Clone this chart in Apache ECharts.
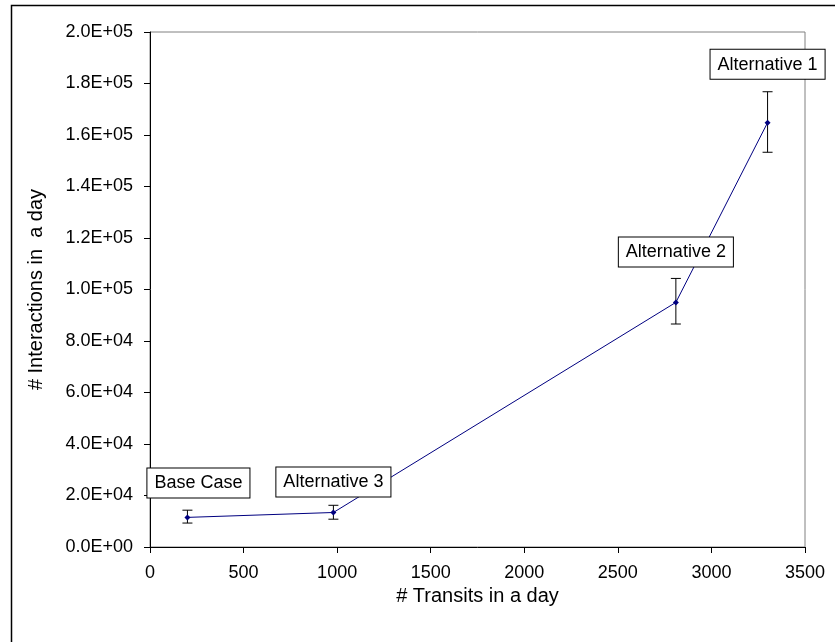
<!DOCTYPE html>
<html>
<head>
<meta charset="utf-8">
<script src="https://cdn.jsdelivr.net/npm/echarts@6/dist/echarts.min.js"></script>
<style>html,body{margin:0;padding:0;background:#fff}#c{width:835px;height:642px}</style>
</head>
<body>
<div id="c"></div>
<script>
var caseNames = ['Base Case', 'Alternative 3', 'Alternative 2', 'Alternative 1'];
var transits = [200, 980, 2810, 3300];
var interactions = [11500, 13400, 95000, 164800];
var errLow = [9300, 10800, 86600, 153300];
var errHigh = [14300, 16200, 104300, 176800];
var xTickLabels = ['0', '500', '1000', '1500', '2000', '2500', '3000', '3500'];
var yTickLabels = ['0.0E+00', '2.0E+04', '4.0E+04', '6.0E+04', '8.0E+04', '1.0E+05', '1.2E+05', '1.4E+05', '1.6E+05', '1.8E+05', '2.0E+05'];

var labelOffsets = [[11, -12], [0, -8], [0, -28], [0, -36]];
var FONT = "'Liberation Sans', Arial, sans-serif";

var lineData = transits.map(function (x, i) {
  return {
    value: [x, interactions[i]],
    label: {
      show: true,
      position: 'top',
      offset: labelOffsets[i],
      formatter: caseNames[i],
      color: '#000',
      fontFamily: FONT,
      fontSize: 18,
      backgroundColor: '#fff',
      borderColor: '#000',
      borderWidth: 1,
      padding: [6, 7, 5, 7]
    }
  };
});
var errData = transits.map(function (x, i) { return [x, errLow[i], errHigh[i]]; });

var chart = echarts.init(document.getElementById('c'));
chart.setOption({
  backgroundColor: '#fff',
  animation: false,
  graphic: [{
    type: 'rect', left: 9, top: 3, shape: { width: 900, height: 700 },
    style: { fill: 'none', stroke: '#000', lineWidth: 1.5 }, z: 0
  }],
  grid: { left: 150, top: 32, right: 30, bottom: 95, show: true, borderColor: '#808080', borderWidth: 1, backgroundColor: '#fff' },
  xAxis: {
    type: 'value', min: 0, max: 3500, interval: 500,
    name: '# Transits in a day', nameLocation: 'middle', nameGap: 39,
    nameTextStyle: { fontFamily: FONT, fontSize: 20, color: '#000' },
    axisLine: { show: true, onZero: false, lineStyle: { color: '#000', width: 1 } },
    axisTick: { show: true, inside: false, length: 6, lineStyle: { color: '#000' } },
    axisLabel: { margin: 17, fontFamily: FONT, fontSize: 18, color: '#000',
      formatter: function (v) { return xTickLabels[Math.round(v / 500)]; } },
    splitLine: { show: false }
  },
  yAxis: {
    type: 'value', min: 0, max: 200000, interval: 20000,
    name: '# Interactions in  a day', nameLocation: 'middle', nameGap: 104, nameRotate: 90,
    nameTextStyle: { fontFamily: FONT, fontSize: 20, color: '#000' },
    axisLine: { show: true, onZero: false, lineStyle: { color: '#000', width: 1 } },
    axisTick: { show: true, inside: false, length: 6, lineStyle: { color: '#000' } },
    axisLabel: { margin: 17, fontFamily: FONT, fontSize: 18, color: '#000',
      formatter: function (v) { return yTickLabels[Math.round(v / 20000)]; } },
    splitLine: { show: false }
  },
  series: [
    {
      type: 'custom',
      z: 3,
      data: errData,
      renderItem: function (params, api) {
        var x = api.value(0);
        var lo = api.coord([x, api.value(1)]);
        var hi = api.coord([x, api.value(2)]);
        var w = 5;
        var st = { stroke: '#000', lineWidth: 1 };
        return {
          type: 'group',
          children: [
            { type: 'line', shape: { x1: lo[0], y1: lo[1], x2: hi[0], y2: hi[1] }, style: st },
            { type: 'line', shape: { x1: lo[0] - w, y1: lo[1], x2: lo[0] + w, y2: lo[1] }, style: st },
            { type: 'line', shape: { x1: hi[0] - w, y1: hi[1], x2: hi[0] + w, y2: hi[1] }, style: st }
          ]
        };
      }
    },
    {
      type: 'line',
      z: 4,
      data: lineData,
      symbol: 'diamond',
      symbolSize: 6,
      lineStyle: { color: '#000080', width: 1 },
      itemStyle: { color: '#000080' }
    }
  ]
});
</script>
</body>
</html>
